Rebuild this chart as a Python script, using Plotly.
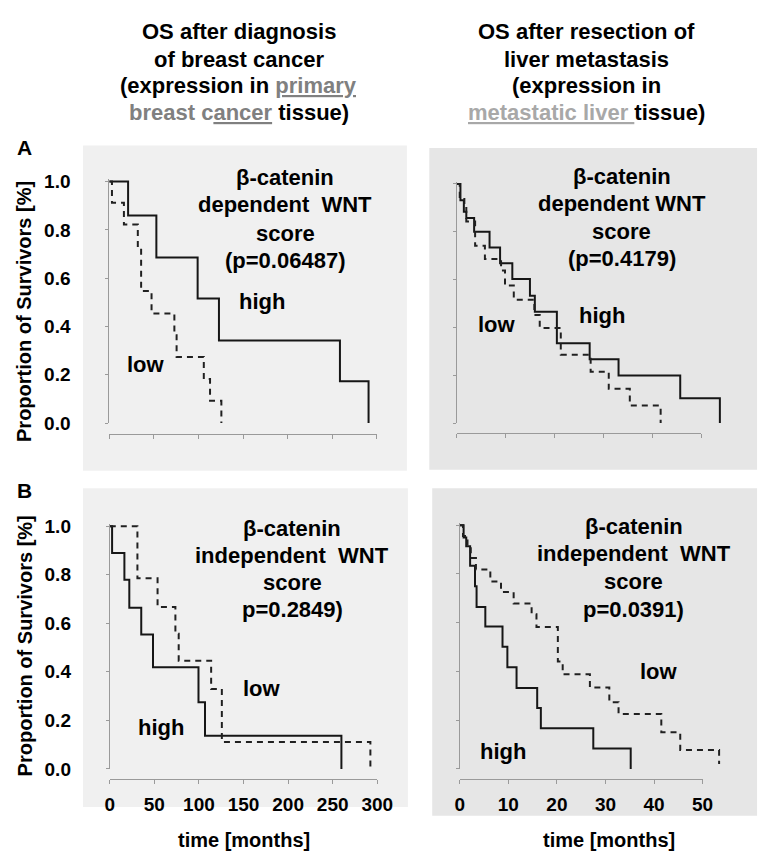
import plotly.graph_objects as go

# ---- survival curves ----
# A, left: OS after diagnosis, beta-catenin dependent WNT score (primary tumour)
a_left_high_t = [0, 21.1, 52.8, 99.1, 123, 258.7, 290.8]
a_left_high_s = [1.0, 0.859, 0.686, 0.516, 0.342, 0.173, 0.0]
a_left_low_t = [0, 3, 16.4, 32, 35.7, 47.4, 73, 75.5, 106, 113, 125.7]
a_left_low_s = [1.0, 0.912, 0.822, 0.727, 0.547, 0.454, 0.364, 0.274, 0.182, 0.092, 0.0]

# A, right: OS after resection of liver metastasis, beta-catenin dependent
a_right_high_t = [0, 0.8, 1.5, 2.0, 3.6, 6.75, 8.9, 11.4, 15.0, 16.0, 20.5, 27.2, 33.1, 45.7, 53.8]
a_right_high_s = [1.0, 0.932, 0.884, 0.857, 0.80, 0.734, 0.668, 0.602, 0.532, 0.465, 0.334, 0.267, 0.199, 0.104, 0.0]
a_right_low_t = [0, 0.66, 1.6, 2.0, 3.8, 5.8, 9.1, 9.9, 11.7, 15.9, 17.0, 21.3, 27.4, 31.1, 35.4, 41.7]
a_right_low_s = [1.0, 0.945, 0.905, 0.843, 0.741, 0.686, 0.638, 0.575, 0.516, 0.452, 0.398, 0.286, 0.215, 0.143, 0.073, 0.0]

# B, left: OS after diagnosis, beta-catenin independent WNT score
b_left_high_t = [0, 2.6, 16.4, 21.9, 35.3, 48.5, 99.5, 106.8, 259.8]
b_left_high_s = [1.0, 0.889, 0.779, 0.664, 0.554, 0.419, 0.275, 0.137, 0.0]
b_left_low_t = [0, 31, 53.6, 73.6, 77.3, 113.7, 125.7, 292.3]
b_left_low_s = [1.0, 0.785, 0.667, 0.557, 0.446, 0.329, 0.111, 0.0]

# B, right: OS after resection of liver metastasis, beta-catenin independent
b_right_high_t = [0, 0.8, 1.34, 2.14, 3.14, 3.47, 5.27, 8.81, 9.81, 11.7, 15.95, 16.7, 27.5, 35.2]
b_right_high_s = [1.0, 0.949, 0.913, 0.833, 0.749, 0.664, 0.584, 0.501, 0.417, 0.332, 0.25, 0.167, 0.084, 0.0]
b_right_low_t = [0, 0.67, 1.6, 2.27, 3.34, 6.3, 8.5, 11.1, 14.8, 15.8, 20.2, 21.2, 26.8, 30.8, 32.7, 41.5, 45.4, 53.4]
b_right_low_s = [1.0, 0.956, 0.91, 0.865, 0.818, 0.769, 0.726, 0.679, 0.635, 0.582, 0.441, 0.388, 0.334, 0.274, 0.225, 0.15, 0.078, 0.02]

# ---- ticks and texts ----
y_ticks = [0.0, 0.2, 0.4, 0.6, 0.8, 1.0]
y_tick_text = ['0.0', '0.2', '0.4', '0.6', '0.8', '1.0']
x_ticks_left = [0, 50, 100, 150, 200, 250, 300]
x_ticks_right = [0, 10, 20, 30, 40, 50]

left_title = [
    "OS after diagnosis",
    "of breast cancer",
    "(expression in <span style='color:#808080'><u>primary</u></span>",
    "<span style='color:#808080'>breast c<u>ancer</u></span> tissue)",
]
right_title = [
    "OS after resection of",
    "liver metastasis",
    "(expression in",
    "<span style='color:#a8a8a8'><u>metastatic liver </u></span>tissue)",
]
panel_texts = [
    ["β-catenin", "dependent  WNT", "score", "(p=0.06487)"],
    ["β-catenin", "dependent WNT", "score", "(p=0.4179)"],
    ["β-catenin", "independent  WNT", "score", "p=0.2849)"],
    ["β-catenin", "independent  WNT", "score", "p=0.0391)"],
]

W, H = 767, 857
FONT = 'Liberation Sans, Arial, sans-serif'
AXIS_GRAY = '#9a9a9a'


def px(x):
    return x / W


def py(y):
    return 1 - y / H


def bold(size, color='black'):
    return dict(family=FONT, size=size, color=color, weight='bold')


def main():
    fig = go.Figure()

    # pixel geometry of each panel: x of t=0, px per month, y of S=0, y of S=1, y of x-axis line
    panels = [
        dict(x0=99, k=275 / 300, xmax=300, xshow=300, y0=416.3, y1=169.3, xline=427.5,
             high=(a_left_high_t, a_left_high_s), low=(a_left_low_t, a_left_low_s),
             bg='#f0f0f0', rect=(72, 132.5, 405, 465), ylab=True, xlab=False, xt=x_ticks_left),
        dict(x0=456, k=5.033, xmax=56, xshow=50, y0=416.3, y1=171.7, xline=426.7,
             high=(a_right_high_t, a_right_high_s), low=(a_right_low_t, a_right_low_s),
             bg='#e6e6e6', rect=(428, 135, 765, 464), ylab=False, xlab=False, xt=x_ticks_right),
        dict(x0=99.5, k=275 / 300, xmax=300, xshow=300, y0=770, y1=521.7, xline=780.7,
             high=(b_left_high_t, b_left_high_s), low=(b_left_low_t, b_left_low_s),
             bg='#f0f0f0', rect=(72, 483, 406, 809), ylab=True, xlab=True, xt=x_ticks_left),
        dict(x0=459.3, k=4.994, xmax=56, xshow=50, y0=770, y1=520.7, xline=780.7,
             high=(b_right_high_t, b_right_high_s), low=(b_right_low_t, b_right_low_s),
             bg='#e6e6e6', rect=(431, 483, 765, 818), ylab=False, xlab=True, xt=x_ticks_right),
    ]

    layout = {}
    shapes = []
    for i, p in enumerate(panels, start=1):
        sfx = '' if i == 1 else str(i)
        xa, ya = 'x' + sfx, 'y' + sfx
        ytop = p['y0'] - 1.01 * (p['y0'] - p['y1'])

        # curves
        fig.add_trace(go.Scatter(x=p['high'][0], y=p['high'][1], mode='lines', line_shape='hv',
                                 line=dict(color='#161616', width=2), xaxis=xa, yaxis=ya))
        fig.add_trace(go.Scatter(x=p['low'][0], y=p['low'][1], mode='lines', line_shape='hv',
                                 line=dict(color='#202020', width=2, dash='6px,5px'), xaxis=xa, yaxis=ya))

        # displayed x axis: separate axis only as long as its labelled range
        disp = i if p['xshow'] == p['xmax'] else 4 + i
        dsfx = '' if disp == 1 else str(disp)
        xaxis_common = dict(
            anchor='free', position=py(p['xline']),
            showline=True, linecolor=AXIS_GRAY, linewidth=1,
            ticks='outside', ticklen=4, tickcolor=AXIS_GRAY, tickwidth=1,
            tickvals=p['xt'], ticktext=['<b>%d</b>' % v for v in p['xt']],
            showticklabels=p['xlab'], ticklabelstandoff=4,
            tickfont=bold(19),
            showgrid=False, zeroline=False, fixedrange=True,
        )
        if disp == i:
            layout['xaxis' + sfx] = dict(
                domain=[px(p['x0']), px(p['x0'] + p['k'] * p['xmax'])],
                range=[0, p['xmax']], **xaxis_common)
        else:
            layout['xaxis' + sfx] = dict(
                domain=[px(p['x0']), px(p['x0'] + p['k'] * p['xmax'])],
                range=[0, p['xmax']], visible=False, anchor=ya)
            layout['xaxis' + dsfx] = dict(
                domain=[px(p['x0']), px(p['x0'] + p['k'] * p['xshow'])],
                range=[0, p['xshow']], **xaxis_common)
            fig.add_trace(go.Scatter(x=[], y=[], xaxis='x' + dsfx, yaxis=ya, hoverinfo='skip'))

        layout['yaxis' + sfx] = dict(
            domain=[py(p['y0']), py(ytop)], range=[0, 1.01], anchor=xa,
            showline=True, linecolor=AXIS_GRAY, linewidth=1,
            ticks='outside', ticklen=3, tickcolor=AXIS_GRAY, tickwidth=1,
            tickvals=y_ticks, ticktext=['<b>%s</b>' % t for t in y_tick_text],
            showticklabels=p['ylab'], ticklabelstandoff=31,
            tickfont=bold(19),
            showgrid=False, zeroline=False, fixedrange=True,
        )

        x0r, y0r, x1r, y1r = p['rect']
        shapes.append(dict(type='rect', xref='paper', yref='paper', layer='below',
                           x0=px(x0r), x1=px(x1r), y0=py(y1r), y1=py(y0r),
                           fillcolor=p['bg'], line=dict(width=0)))

    ann = []

    def note(x, y, txt, size=22, **kw):
        ann.append(dict(x=px(x), y=py(y), text=txt, showarrow=False, xref='paper', yref='paper',
                        xanchor='center', yanchor='middle', align='center', font=bold(size), **kw))

    # column headings, one annotation per line
    for x, lines in [(232, left_title), (590, right_title)]:
        for y, line in zip([16, 44, 71.5, 99], lines):
            note(x, y, line)
    # panel letters
    note(12, 134, 'A', 21)
    note(12, 485, 'B', 21)
    # y titles
    for y in [302, 644]:
        note(12, y, 'Proportion of Survivors [%]', 20, textangle=-90)
    # x titles
    for x in [238, 613]:
        note(x, 843, 'time [months]', 20)
    # score text in each panel
    line_y = [[165, 193, 222, 250], [164, 192, 220, 248], [524, 552, 579, 607], [522, 550, 578, 607]]
    for x, ys, lines in zip([280, 626, 287, 638], line_y, panel_texts):
        for y, line in zip(ys, lines):
            note(x, y, line)
    # group labels
    for (x, y), txt in zip([(256, 292), (137, 356), (606, 306), (498, 316),
                            (256, 688), (152, 728), (664, 670), (504, 752)],
                           ['high', 'low', 'high', 'low', 'low', 'high', 'low', 'high']):
        note(x, y, txt)

    fig.update_layout(
        width=W, height=H,
        margin=dict(l=0, r=0, t=0, b=0),
        paper_bgcolor='white',
        plot_bgcolor='rgba(0,0,0,0)',
        showlegend=False,
        shapes=shapes,
        annotations=ann,
        **layout,
    )
    fig.write_html("out.html")


if __name__ == "__main__":
    main()
